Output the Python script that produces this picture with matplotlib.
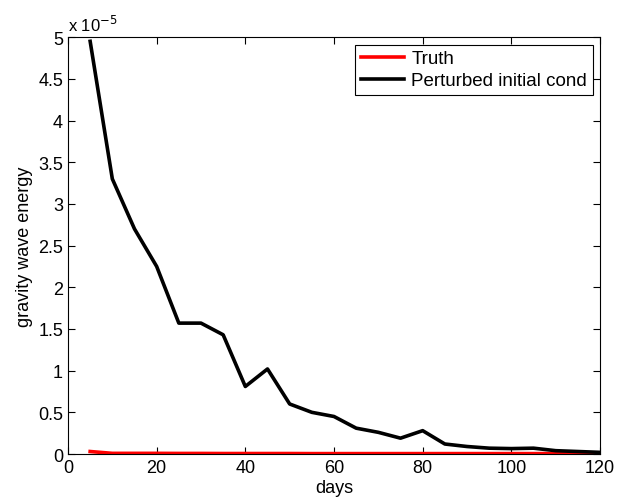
import numpy as np
import matplotlib.pyplot as plt
from matplotlib.ticker import FuncFormatter

plt.rcParams['font.family'] = ['Liberation Sans', 'DejaVu Sans']

days = [5, 10, 15, 20, 25, 30, 35, 40, 45, 50, 55, 60,
        65, 70, 75, 80, 85, 90, 95, 100, 105, 110, 115, 120]
perturbed = np.array([4.95, 3.30, 2.70, 2.25, 1.57, 1.57, 1.43, 0.81, 1.02, 0.60, 0.50, 0.45,
                      0.31, 0.26, 0.19, 0.28, 0.12, 0.09, 0.07, 0.065, 0.07, 0.04, 0.03, 0.02]) * 1e-5
truth = np.array([0.03, 0.008, 0.008, 0.008, 0.007, 0.007, 0.006, 0.006, 0.006, 0.006, 0.005, 0.005,
                  0.005, 0.005, 0.005, 0.005, 0.005, 0.005, 0.005, 0.005, 0.005, 0.005, 0.005, 0.005]) * 1e-5

fig = plt.figure(figsize=(6.26, 5.02), dpi=100)
ax = fig.add_axes([0.1086, 0.0936, 0.8499, 0.8304])

ax.plot(days, truth, color='red', lw=2.6, label='Truth')
ax.plot(days, perturbed, color='black', lw=2.6, label='Perturbed initial cond')

ax.set_xlim(0, 120)
ax.set_ylim(0, 5e-5)
ax.set_xticks(np.arange(0, 121, 20))
ax.set_yticks(np.arange(0, 5.01, 0.5) * 1e-5)
ax.yaxis.set_major_formatter(FuncFormatter(lambda v, p: ('%g' % round(v * 1e5, 2))))
ax.tick_params(direction='in', top=True, right=True, labelsize=13, length=5)
for s in ax.spines.values():
    s.set_linewidth(0.8)

ax.set_xlabel('days', fontsize=13, labelpad=2)
ax.set_ylabel('gravity wave energy', fontsize=13, labelpad=4)
ax.text(0.0, 1.008, r'x 10$^{-5}$', transform=ax.transAxes, fontsize=12, va='bottom', ha='left')

leg = ax.legend(loc='upper right', fontsize=13.5, fancybox=False, edgecolor='black',
                framealpha=1, borderaxespad=0.4, handlelength=2.3, borderpad=0.3,
                labelspacing=0.25, handletextpad=0.4)
leg.get_frame().set_linewidth(0.8)

fig.savefig('out.png', dpi=100)
